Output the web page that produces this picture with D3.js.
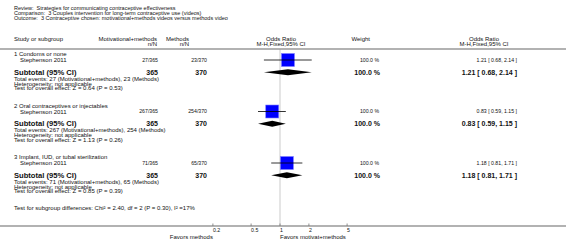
<!DOCTYPE html>
<html>
<head>
<meta charset="utf-8">
<script src="https://cdn.jsdelivr.net/npm/d3@7"></script>
<style>
  body { margin: 0; background: #fff; }
  svg text { font-family: "Liberation Sans", Arial, sans-serif; fill: #111; white-space: pre; }
</style>
</head>
<body>
<div id="chart"></div>
<script>
const headerLines = [
  "Review:  Strategies for communicating contraceptive effectiveness",
  "Comparison:  3 Couples intervention for long-term contraceptive use (videos)",
  "Outcome:  3 Contraceptive chosen: motivational+methods videos versus methods video"
];
const groups = [
  "1 Condoms or none",
  "2 Oral contraceptives or injectables",
  "3 Implant, IUD, or tubal sterilization"
];
const studies = ["Stephenson 2011", "Stephenson 2011", "Stephenson 2011"];
const eventsMM = [27, 267, 71];
const totalMM = [365, 365, 365];
const eventsM = [23, 254, 65];
const totalM = [370, 370, 370];
const oddsRatio = [1.21, 0.83, 1.18];
const ciLow = [0.68, 0.59, 0.81];
const ciHigh = [2.14, 1.15, 1.71];
const weights = [100.0, 100.0, 100.0];
const zValues = [0.64, 1.13, 0.85];
const pValues = [0.53, 0.26, 0.39];
const ticks = [0.2, 0.5, 1, 2, 5];
const subgroupTest = "Test for subgroup differences: Chi\u00b2 = 2.40, df = 2 (P = 0.30), I\u00b2 =17%";

const W = 566, H = 249;
const svg = d3.select("#chart").append("svg")
  .attr("width", W).attr("height", H);

const x = d3.scaleLog().domain([0.1, 10]).range([184, 376]);

const small = 6, tiny = 5.2, boldBig = 7.6, boldNum = 7;

function txt(s, xx, yc, size, anchor, bold) {
  return svg.append("text")
    .attr("x", xx)
    .attr("y", yc + size * 0.35)
    .attr("text-anchor", anchor || "start")
    .style("font-size", size + "px")
    .style("font-weight", bold ? "bold" : "normal")
    .text(s);
}

// title block
headerLines.forEach((s, i) => txt(s, 14, 8 + i * 5, 5.5));

// column headers
txt("Study or subgroup", 14, 38.5, small);
txt("Motivational+methods", 157, 38.5, small, "end");
txt("n/N", 157, 43.5, small, "end");
txt("Methods", 189, 38.5, small, "end");
txt("n/N", 189, 43.5, small, "end");
txt("Odds Ratio", 281, 38.5, small, "middle");
txt("M-H,Fixed,95% CI", 281, 43.5, small, "middle");
txt("Weight", 370, 38.5, small, "end");
txt("Odds Ratio", 484, 38.5, small, "middle");
txt("M-H,Fixed,95% CI", 484, 43.5, small, "middle");

const lineY = 49, axisY = 226;

// line of no effect
svg.append("line")
  .attr("x1", x(1)).attr("x2", x(1))
  .attr("y1", lineY).attr("y2", axisY)
  .attr("stroke", "#dcdcdc").attr("stroke-width", 1.5);

svg.append("line")
  .attr("x1", 0).attr("x2", W).attr("y1", lineY).attr("y2", lineY)
  .attr("stroke", "#999").attr("stroke-width", 1.5);

const fmt = d3.format(".2f");
const groupTop = [54.3, 105.8, 157.3];

groups.forEach((g, i) => {
  const y0 = groupTop[i];
  const yStudy = y0 + 5.7, ySub = y0 + 17.9;
  const orText = `${fmt(oddsRatio[i])} [ ${fmt(ciLow[i])}, ${fmt(ciHigh[i])} ]`;

  txt(g, 14, y0, small);
  txt(studies[i], 20, yStudy, small);
  txt(`${eventsMM[i]}/${totalMM[i]}`, 158, yStudy, tiny, "end");
  txt(`${eventsM[i]}/${totalM[i]}`, 207, yStudy, tiny, "end");
  txt(`${weights[i].toFixed(1)} %`, 379, yStudy, tiny, "end");
  txt(orText, 517, yStudy, tiny, "end");

  // study square and CI
  const s = 13;
  svg.append("rect")
    .attr("x", x(oddsRatio[i]) - s / 2).attr("y", yStudy - s / 2)
    .attr("width", s).attr("height", s)
    .attr("fill", "#0000ff").attr("stroke", "#7f7fff").attr("stroke-width", 0.6);
  svg.append("line")
    .attr("x1", x(ciLow[i])).attr("x2", x(ciHigh[i]))
    .attr("y1", yStudy).attr("y2", yStudy)
    .attr("stroke", "#000").attr("stroke-width", 0.8);

  // subtotal row
  txt("Subtotal (95% CI)", 14, ySub, boldBig, "start", true);
  txt(String(totalMM[i]), 158, ySub, boldNum, "end", true);
  txt(String(totalM[i]), 207, ySub, boldNum, "end", true);
  txt("100.0 %", 380, ySub, boldNum, "end", true);
  txt(orText, 517, ySub, boldNum, "end", true);

  const h = 3;
  svg.append("path")
    .attr("d", d3.line()([
      [x(ciLow[i]), ySub], [x(oddsRatio[i]), ySub - h],
      [x(ciHigh[i]), ySub], [x(oddsRatio[i]), ySub + h]
    ]) + "Z")
    .attr("fill", "#000");

  txt(`Total events: ${eventsMM[i]} (Motivational+methods), ${eventsM[i]} (Methods)`, 14, y0 + 24.4, small);
  txt("Heterogeneity: not applicable", 14, y0 + 29.2, small);
  txt(`Test for overall effect: Z = ${fmt(zValues[i])} (P = ${fmt(pValues[i])})`, 14, y0 + 33.9, small);
});

txt(subgroupTest, 14, 208, small);

// axis
svg.append("line")
  .attr("x1", 0).attr("x2", W).attr("y1", axisY).attr("y2", axisY)
  .attr("stroke", "#999").attr("stroke-width", 1.5);

ticks.forEach(t => {
  svg.append("line")
    .attr("x1", x(t)).attr("x2", x(t))
    .attr("y1", axisY - 2.5).attr("y2", axisY)
    .attr("stroke", "#777").attr("stroke-width", 0.8);
  txt(String(t), x(t), 230.5, tiny);
});

txt("Favors methods", x(0.2), 236.8, small, "end");
txt("Favors motivat+methods", x(1), 236.8, small);
</script>
</body>
</html>
